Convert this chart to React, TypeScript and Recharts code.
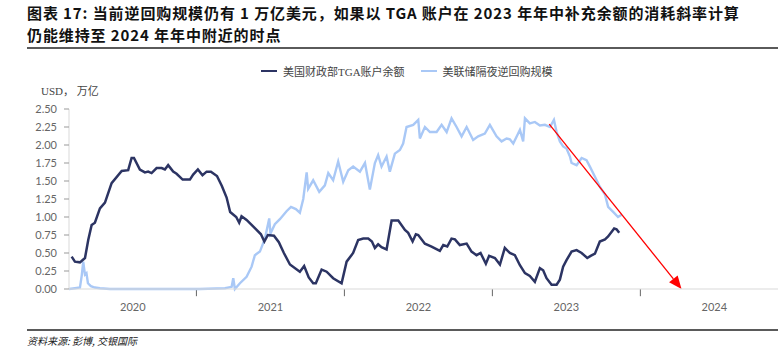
import { LineChart, Line, XAxis, YAxis, ReferenceLine } from 'recharts'

// 美国财政部TGA账户余额 (USD 万亿), sampled off the chart
const tgaYear = [
  2020.157, 2020.179, 2020.213, 2020.247, 2020.269, 2020.292, 2020.314, 2020.348, 2020.382, 2020.427,
  2020.495, 2020.539, 2020.562, 2020.578, 2020.618, 2020.652, 2020.674, 2020.697, 2020.731, 2020.765,
  2020.787, 2020.809, 2020.843, 2020.866, 2020.907, 2020.956, 2020.978, 2021.01, 2021.041, 2021.069,
  2021.098, 2021.139, 2021.172, 2021.204, 2021.228, 2021.269, 2021.289, 2021.305, 2021.339, 2021.378,
  2021.436, 2021.459, 2021.483, 2021.524, 2021.557, 2021.591, 2021.632, 2021.699, 2021.728, 2021.759,
  2021.789, 2021.807, 2021.846, 2021.88, 2021.924, 2021.981, 2022.015, 2022.059, 2022.093, 2022.127,
  2022.161, 2022.186, 2022.206, 2022.228, 2022.251, 2022.285, 2022.319, 2022.364, 2022.409, 2022.431,
  2022.461, 2022.483, 2022.499, 2022.544, 2022.589, 2022.645, 2022.668, 2022.695, 2022.724, 2022.747,
  2022.78, 2022.826, 2022.859, 2022.893, 2022.92, 2022.956, 2022.978, 2023.017, 2023.051, 2023.084,
  2023.118, 2023.152, 2023.186, 2023.22, 2023.253, 2023.287, 2023.321, 2023.343, 2023.366, 2023.4,
  2023.434, 2023.456, 2023.478, 2023.501, 2023.535, 2023.569, 2023.603, 2023.641, 2023.664, 2023.693,
  2023.726, 2023.761, 2023.782, 2023.823, 2023.839, 2023.857,
]
const tgaValue = [
  0.45, 0.38, 0.37, 0.43, 0.68, 0.89, 0.92, 1.12, 1.2, 1.47,
  1.64, 1.65, 1.82, 1.82, 1.66, 1.62, 1.63, 1.61, 1.68, 1.68,
  1.66, 1.72, 1.63, 1.6, 1.52, 1.52, 1.59, 1.66, 1.58, 1.63,
  1.63, 1.57, 1.43, 1.27, 1.07, 1.0, 0.92, 1.01, 0.96, 0.88,
  0.76, 0.66, 0.75, 0.74, 0.65, 0.5, 0.34, 0.24, 0.32, 0.16,
  0.08, 0.08, 0.27, 0.24, 0.15, 0.08, 0.38, 0.5, 0.68, 0.7,
  0.7, 0.66, 0.57, 0.62, 0.58, 0.55, 0.95, 0.95, 0.82, 0.78,
  0.66, 0.76, 0.75, 0.63, 0.59, 0.53, 0.61, 0.59, 0.7, 0.69,
  0.61, 0.63, 0.52, 0.47, 0.5, 0.35, 0.46, 0.43, 0.34, 0.57,
  0.5, 0.47, 0.33, 0.22, 0.18, 0.1, 0.29, 0.26, 0.15, 0.06,
  0.06, 0.13, 0.31, 0.4, 0.52, 0.54, 0.5, 0.43, 0.46, 0.49,
  0.66, 0.69, 0.73, 0.84, 0.83, 0.78,
]

// 美联储隔夜逆回购规模 (USD 万亿)
const rrpYear = [
  2020.139, 2020.179, 2020.213, 2020.226, 2020.235, 2020.247, 2020.257, 2020.267, 2020.287, 2020.314,
  2020.348, 2020.416, 2020.686, 2021.024, 2021.193, 2021.238, 2021.249, 2021.26, 2021.294, 2021.339,
  2021.373, 2021.395, 2021.429, 2021.463, 2021.492, 2021.5, 2021.53, 2021.564, 2021.609, 2021.639,
  2021.672, 2021.699, 2021.722, 2021.745, 2021.755, 2021.789, 2021.83, 2021.868, 2021.891, 2021.924,
  2021.958, 2021.992, 2022.026, 2022.059, 2022.105, 2022.139, 2022.172, 2022.206, 2022.228, 2022.251,
  2022.285, 2022.307, 2022.341, 2022.375, 2022.397, 2022.42, 2022.465, 2022.499, 2022.51, 2022.544,
  2022.578, 2022.623, 2022.657, 2022.691, 2022.724, 2022.758, 2022.792, 2022.826, 2022.87, 2022.904,
  2022.949, 2022.983, 2023.028, 2023.062, 2023.096, 2023.118, 2023.141, 2023.174, 2023.186, 2023.208,
  2023.22, 2023.253, 2023.287, 2023.321, 2023.355, 2023.389, 2023.416, 2023.434, 2023.456, 2023.478,
  2023.501, 2023.524, 2023.535, 2023.569, 2023.603, 2023.636, 2023.659, 2023.693, 2023.726, 2023.761,
  2023.782, 2023.816, 2023.849, 2023.873,
]
const rrpValue = [
  0.0, 0.01, 0.02, 0.2, 0.38, 0.2, 0.22, 0.08, 0.04, 0.02,
  0.01, 0.0, 0.0, 0.0, 0.01, 0.03, 0.15, 0.0, 0.08, 0.17,
  0.31, 0.47, 0.52, 0.7, 0.98, 0.77, 0.9, 0.97, 1.08, 1.14,
  1.11, 1.06, 1.25, 1.62, 1.39, 1.51, 1.35, 1.44, 1.61, 1.51,
  1.77, 1.49, 1.65, 1.7, 1.63, 1.75, 1.38, 1.75, 1.86, 1.7,
  1.84, 1.63, 1.88, 1.93, 2.02, 2.25, 2.28, 2.35, 2.09, 2.25,
  2.18, 2.18, 2.28, 2.18, 2.37, 2.25, 2.12, 2.25, 2.07, 2.12,
  2.16, 2.28, 2.12, 2.05, 2.09, 2.08, 2.02, 2.16, 2.21, 2.05,
  2.37, 2.3, 2.32, 2.27, 2.28, 2.25, 2.35, 2.18, 2.05, 1.98,
  1.95, 1.84, 1.75, 1.72, 1.82, 1.79, 1.7, 1.56, 1.42, 1.31,
  1.14, 1.07, 1.0, 1.03,
]

const yTicks = [0, 0.25, 0.5, 0.75, 1, 1.25, 1.5, 1.75, 2, 2.25, 2.5]
const yearLabels = ['2020', '2021', '2022', '2023', '2024']
const yearLabelAt = [2020.57, 2021.5, 2022.5, 2023.5, 2024.5]
const yearBounds = [2021, 2022, 2023, 2024]
const xDomain = [2020.139, 2024.93]

// red trend arrow: from the RRP level in mid-2023 down to zero
const arrowFrom = { x: 2023.384, y: 2.29 }
const arrowTo = { x: 2024.278, y: 0 }

const tgaData = tgaYear.map((t, i) => ({ t, v: tgaValue[i] }))
const rrpData = rrpYear.map((t, i) => ({ t, v: rrpValue[i] }))

const TGA_COLOR = '#2c3463'
const RRP_COLOR = '#a9c8f6'
const serif = '"Liberation Serif", "Noto Sans CJK SC", serif'
const cjk = '"Noto Sans CJK SC", sans-serif'

function Arrow(props: any) {
  const { x1, y1, x2, y2 } = props
  const a = Math.atan2(y2 - y1, x2 - x1)
  const len = 13
  const half = 5.5
  const bx = x2 - len * Math.cos(a)
  const by = y2 - len * Math.sin(a)
  const p1 = `${bx + half * Math.sin(a)},${by - half * Math.cos(a)}`
  const p2 = `${bx - half * Math.sin(a)},${by + half * Math.cos(a)}`
  return (
    <g>
      <line x1={x1} y1={y1} x2={bx} y2={by} stroke="#ff0000" strokeWidth={1.3} />
      <polygon points={`${x2},${y2} ${p1} ${p2}`} fill="#ff0000" />
    </g>
  )
}

const titleLine = {
  position: 'absolute' as const,
  left: 27,
  fontFamily: cjk,
  fontWeight: 700,
  fontSize: 15,
  letterSpacing: 0.9,
  lineHeight: '22px',
  height: 22,
  color: '#111',
  whiteSpace: 'nowrap' as const,
}

export default function App() {
  return (
    <div style={{ position: 'absolute', left: 0, top: 0, width: 778, height: 350, background: '#fff', overflow: 'hidden' }}>
      <LineChart
        width={778}
        height={350}
        margin={{ top: 109, right: 0, bottom: 31, left: 0 }}
      >
        <XAxis
          type="number"
          dataKey="t"
          domain={xDomain}
          allowDataOverflow
          ticks={yearLabelAt}
          interval={0}
          tickFormatter={(_v: number, i: number) => yearLabels[i]}
          height={30}
          tickLine={false}
          tickSize={6}
          tickMargin={8}
          axisLine={{ stroke: '#d9d9d9' }}
          tick={{ fontSize: 11, fill: '#666', fontFamily: 'Lato, sans-serif' }}
        />
        <YAxis
          type="number"
          domain={[0, 2.5]}
          ticks={yTicks}
          interval={0}
          width={69}
          tickFormatter={(v: number) => v.toFixed(2)}
          tickSize={5}
          tickMargin={7}
          axisLine={{ stroke: '#d9d9d9' }}
          tickLine={{ stroke: '#999' }}
          tick={{ fontSize: 11, fill: '#666', fontFamily: 'Lato, sans-serif' }}
        />
        {yearBounds.map((b) => (
          <ReferenceLine
            key={b}
            segment={[{ x: b, y: 0 }, { x: b, y: -0.1 }]}
            stroke="#666"
            strokeWidth={1}
            ifOverflow="visible"
          />
        ))}
        <Line
          data={rrpData}
          dataKey="v"
          type="linear"
          stroke={RRP_COLOR}
          strokeWidth={2.4}
          dot={false}
          isAnimationActive={false}
        />
        <Line
          data={tgaData}
          dataKey="v"
          type="linear"
          stroke={TGA_COLOR}
          strokeWidth={2.5}
          dot={false}
          isAnimationActive={false}
        />
        <ReferenceLine
          segment={[arrowFrom, arrowTo]}
          ifOverflow="visible"
          shape={Arrow}
        />
      </LineChart>

      <div style={{ ...titleLine, top: 1.5 }}>
        图表 17: 当前逆回购规模仍有 1 万亿美元，如果以 TGA 账户在 2023 年年中补充余额的消耗斜率计算
      </div>
      <div style={{ ...titleLine, top: 23.5 }}>仍能维持至 2024 年年中附近的时点</div>
      <div style={{ position: 'absolute', left: 27, top: 47, width: 751, height: 2, background: '#5a5a5a' }} />

      <div style={{ position: 'absolute', left: 261, top: 63, height: 16, display: 'flex', alignItems: 'center', fontFamily: serif, fontSize: 11, color: '#444', whiteSpace: 'nowrap' }}>
        <span style={{ display: 'inline-block', width: 16, height: 2.5, background: TGA_COLOR, marginRight: 6 }} />
        <span>美国财政部TGA账户余额</span>
        <span style={{ display: 'inline-block', width: 16, height: 2.5, background: RRP_COLOR, marginLeft: 16, marginRight: 6 }} />
        <span>美联储隔夜逆回购规模</span>
      </div>

      <div style={{ position: 'absolute', left: 41, top: 82, fontFamily: serif, fontSize: 11, color: '#444', whiteSpace: 'nowrap' }}>
        USD， 万亿
      </div>

      <div style={{ position: 'absolute', left: 27, top: 329, width: 751, height: 2, background: '#5a5a5a' }} />
      <div style={{ position: 'absolute', left: 27, top: 333, fontFamily: cjk, fontStyle: 'italic', fontSize: 10, color: '#222', whiteSpace: 'nowrap' }}>
        资料来源: 彭博, 交银国际
      </div>
    </div>
  )
}
